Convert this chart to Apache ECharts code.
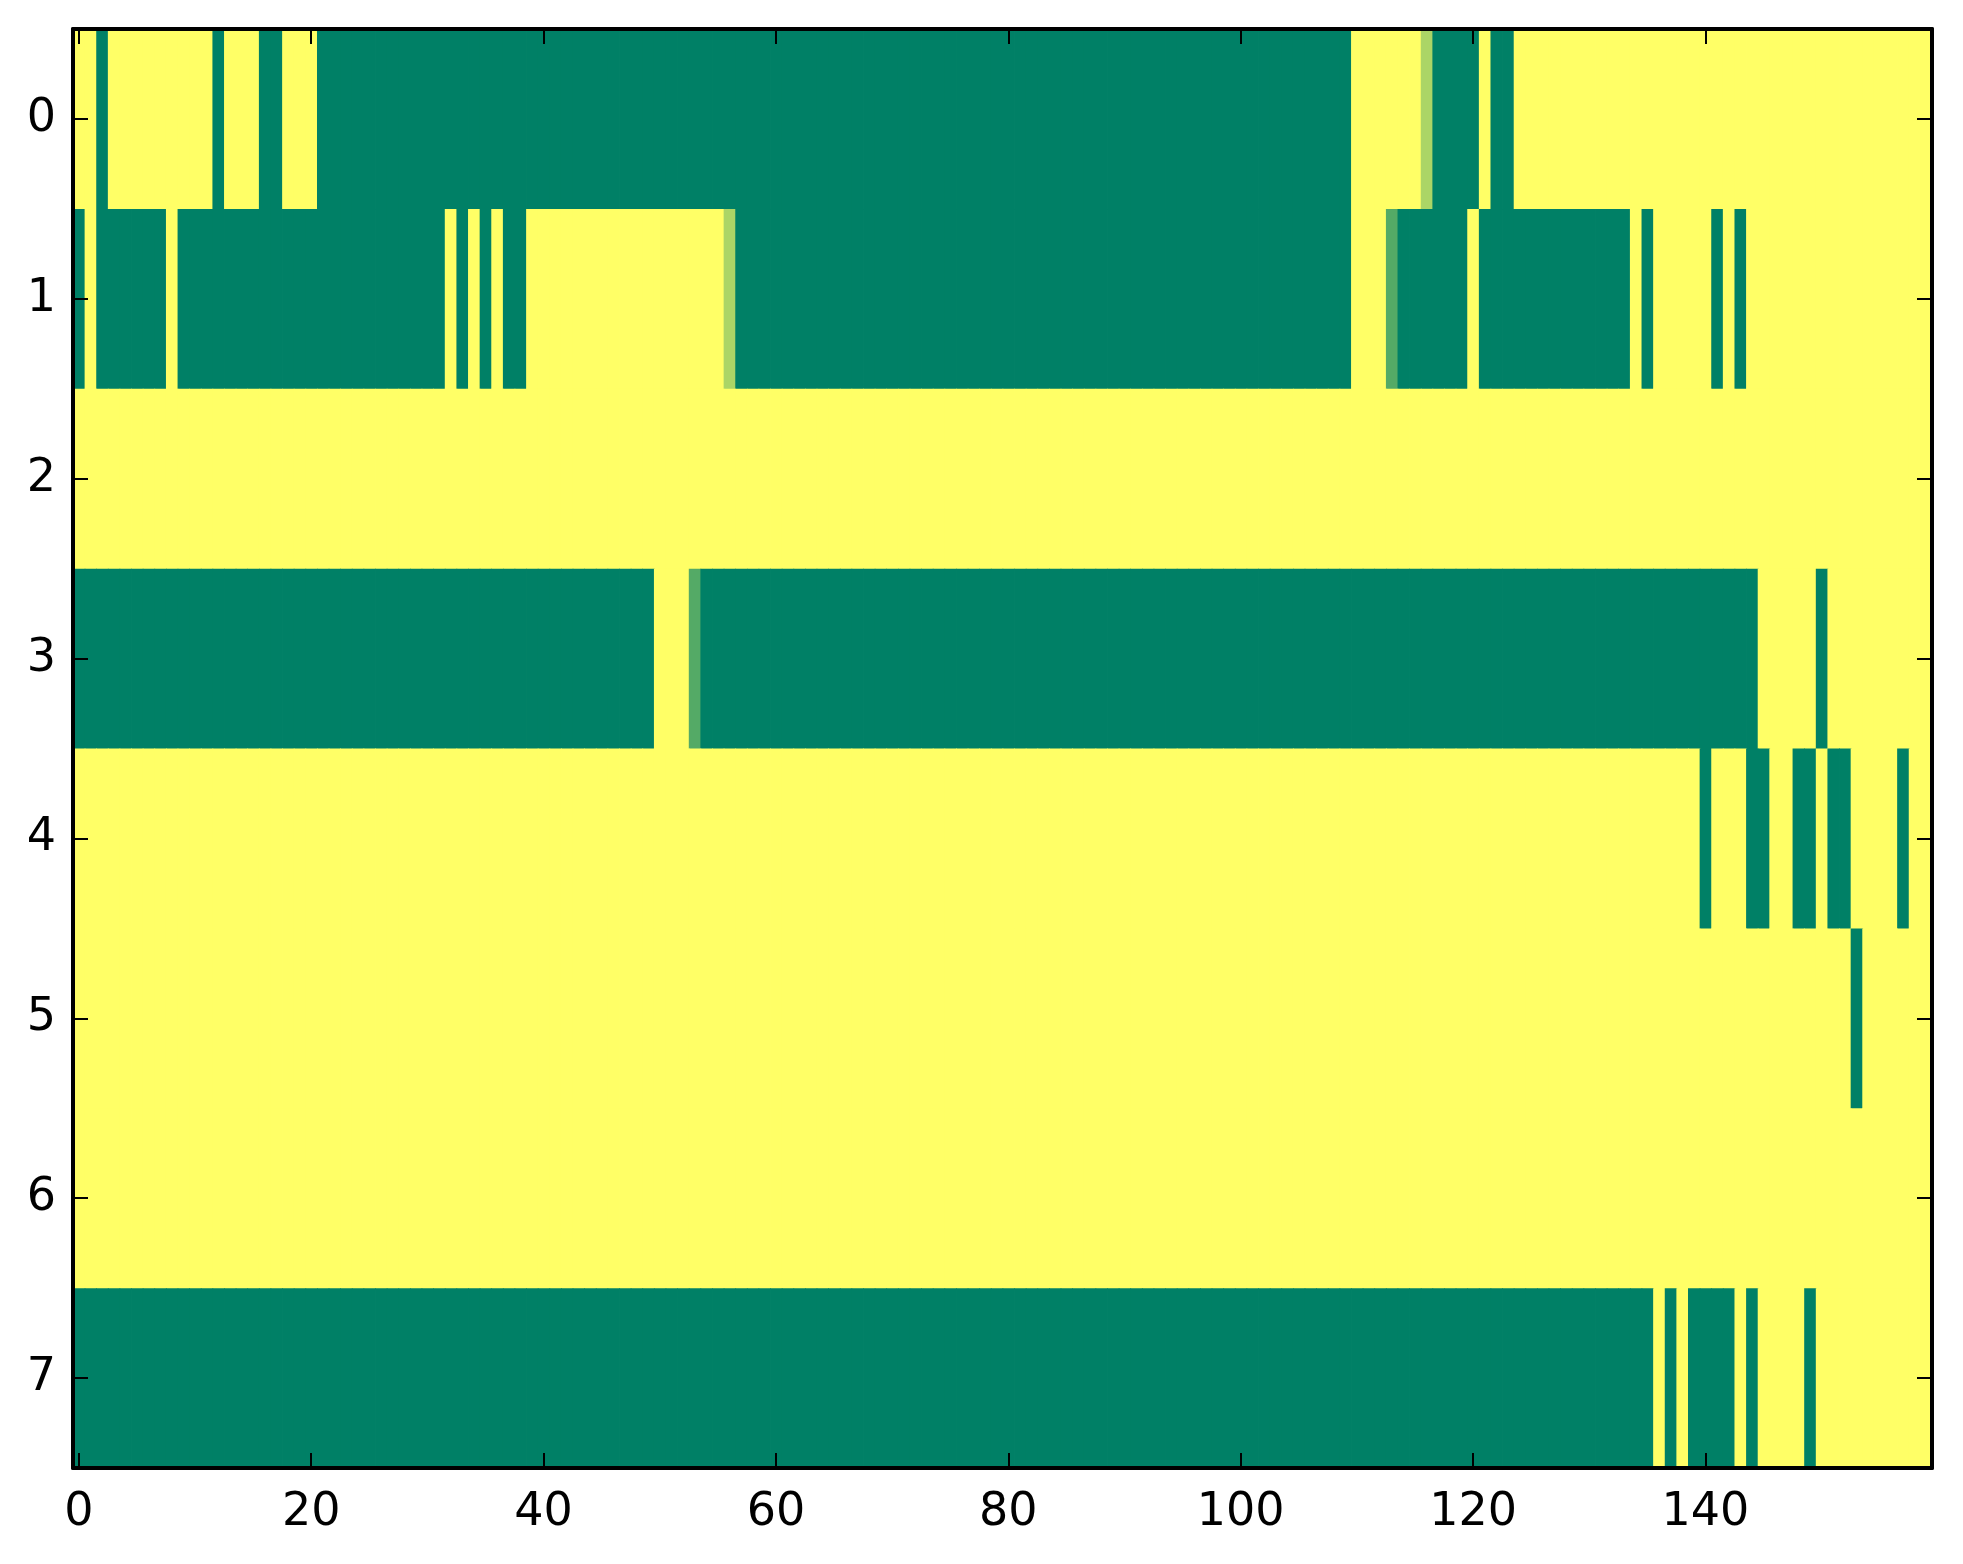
<!DOCTYPE html>
<html>
<head>
<meta charset="utf-8">
<script src="https://cdn.jsdelivr.net/npm/echarts@6/dist/echarts.min.js"></script>
<style>
html,body{margin:0;padding:0;background:#fff;}
#chart{width:1963px;height:1564px;}
</style>
</head>
<body>
<div id="chart"></div>
<script>
// Column indices 0..159 and row labels 0..7
var xCategories = [];
for (var i = 0; i < 160; i++) xCategories.push(String(i));
var yCategories = ['0','1','2','3','4','5','6','7'];

// Cell values per row (0 = green, 1 = yellow)
var row0 = [
1,1,0,1,1,1,1,1,1,1, 1,1,0,1,1,1,0,0,1,1,
1,0,0,0,0,0,0,0,0,0, 0,0,0,0,0,0,0,0,0,0,
0,0,0,0,0,0,0,0,0,0, 0,0,0,0,0,0,0,0,0,0,
0,0,0,0,0,0,0,0,0,0, 0,0,0,0,0,0,0,0,0,0,
0,0,0,0,0,0,0,0,0,0, 0,0,0,0,0,0,0,0,0,0,
0,0,0,0,0,0,0,0,0,0, 1,1,1,1,1,1,0.67,0,0,0,
0,1,0,0,1,1,1,1,1,1, 1,1,1,1,1,1,1,1,1,1,
1,1,1,1,1,1,1,1,1,1, 1,1,1,1,1,1,1,1,1,1
];
var row1 = [
0,1,0,0,0,0,0,0,1,0, 0,0,0,0,0,0,0,0,0,0,
0,0,0,0,0,0,0,0,0,0, 0,0,1,0,1,0,1,0,0,1,
1,1,1,1,1,1,1,1,1,1, 1,1,1,1,1,1,0.67,0,0,0,
0,0,0,0,0,0,0,0,0,0, 0,0,0,0,0,0,0,0,0,0,
0,0,0,0,0,0,0,0,0,0, 0,0,0,0,0,0,0,0,0,0,
0,0,0,0,0,0,0,0,0,0, 1,1,1,0.33,0,0,0,0,0,0,
1,0,0,0,0,0,0,0,0,0, 0,0,0,0,1,0,1,1,1,1,
1,0,1,0,1,1,1,1,1,1, 1,1,1,1,1,1,1,1,1,1
];
var row2 = [
1,1,1,1,1,1,1,1,1,1, 1,1,1,1,1,1,1,1,1,1,
1,1,1,1,1,1,1,1,1,1, 1,1,1,1,1,1,1,1,1,1,
1,1,1,1,1,1,1,1,1,1, 1,1,1,1,1,1,1,1,1,1,
1,1,1,1,1,1,1,1,1,1, 1,1,1,1,1,1,1,1,1,1,
1,1,1,1,1,1,1,1,1,1, 1,1,1,1,1,1,1,1,1,1,
1,1,1,1,1,1,1,1,1,1, 1,1,1,1,1,1,1,1,1,1,
1,1,1,1,1,1,1,1,1,1, 1,1,1,1,1,1,1,1,1,1,
1,1,1,1,1,1,1,1,1,1, 1,1,1,1,1,1,1,1,1,1
];
var row3 = [
0,0,0,0,0,0,0,0,0,0, 0,0,0,0,0,0,0,0,0,0,
0,0,0,0,0,0,0,0,0,0, 0,0,0,0,0,0,0,0,0,0,
0,0,0,0,0,0,0,0,0,0, 1,1,1,0.33,0,0,0,0,0,0,
0,0,0,0,0,0,0,0,0,0, 0,0,0,0,0,0,0,0,0,0,
0,0,0,0,0,0,0,0,0,0, 0,0,0,0,0,0,0,0,0,0,
0,0,0,0,0,0,0,0,0,0, 0,0,0,0,0,0,0,0,0,0,
0,0,0,0,0,0,0,0,0,0, 0,0,0,0,0,0,0,0,0,0,
0,0,0,0,0,1,1,1,1,1, 0,1,1,1,1,1,1,1,1,1
];
var row4 = [
1,1,1,1,1,1,1,1,1,1, 1,1,1,1,1,1,1,1,1,1,
1,1,1,1,1,1,1,1,1,1, 1,1,1,1,1,1,1,1,1,1,
1,1,1,1,1,1,1,1,1,1, 1,1,1,1,1,1,1,1,1,1,
1,1,1,1,1,1,1,1,1,1, 1,1,1,1,1,1,1,1,1,1,
1,1,1,1,1,1,1,1,1,1, 1,1,1,1,1,1,1,1,1,1,
1,1,1,1,1,1,1,1,1,1, 1,1,1,1,1,1,1,1,1,1,
1,1,1,1,1,1,1,1,1,1, 1,1,1,1,1,1,1,1,1,1,
0,1,1,1,0,0,1,1,0,0, 1,0,0,1,1,1,1,0,1,1
];
var row5 = [
1,1,1,1,1,1,1,1,1,1, 1,1,1,1,1,1,1,1,1,1,
1,1,1,1,1,1,1,1,1,1, 1,1,1,1,1,1,1,1,1,1,
1,1,1,1,1,1,1,1,1,1, 1,1,1,1,1,1,1,1,1,1,
1,1,1,1,1,1,1,1,1,1, 1,1,1,1,1,1,1,1,1,1,
1,1,1,1,1,1,1,1,1,1, 1,1,1,1,1,1,1,1,1,1,
1,1,1,1,1,1,1,1,1,1, 1,1,1,1,1,1,1,1,1,1,
1,1,1,1,1,1,1,1,1,1, 1,1,1,1,1,1,1,1,1,1,
1,1,1,1,1,1,1,1,1,1, 1,1,1,0,1,1,1,1,1,1
];
var row6 = [
1,1,1,1,1,1,1,1,1,1, 1,1,1,1,1,1,1,1,1,1,
1,1,1,1,1,1,1,1,1,1, 1,1,1,1,1,1,1,1,1,1,
1,1,1,1,1,1,1,1,1,1, 1,1,1,1,1,1,1,1,1,1,
1,1,1,1,1,1,1,1,1,1, 1,1,1,1,1,1,1,1,1,1,
1,1,1,1,1,1,1,1,1,1, 1,1,1,1,1,1,1,1,1,1,
1,1,1,1,1,1,1,1,1,1, 1,1,1,1,1,1,1,1,1,1,
1,1,1,1,1,1,1,1,1,1, 1,1,1,1,1,1,1,1,1,1,
1,1,1,1,1,1,1,1,1,1, 1,1,1,1,1,1,1,1,1,1
];
var row7 = [
0,0,0,0,0,0,0,0,0,0, 0,0,0,0,0,0,0,0,0,0,
0,0,0,0,0,0,0,0,0,0, 0,0,0,0,0,0,0,0,0,0,
0,0,0,0,0,0,0,0,0,0, 0,0,0,0,0,0,0,0,0,0,
0,0,0,0,0,0,0,0,0,0, 0,0,0,0,0,0,0,0,0,0,
0,0,0,0,0,0,0,0,0,0, 0,0,0,0,0,0,0,0,0,0,
0,0,0,0,0,0,0,0,0,0, 0,0,0,0,0,0,0,0,0,0,
0,0,0,0,0,0,0,0,0,0, 0,0,0,0,0,0,1,0,1,0,
0,0,0,1,0,1,1,1,1,0, 1,1,1,1,1,1,1,1,1,1
];
var rows = [row0, row1, row2, row3, row4, row5, row6, row7];

// Tick label step on the x axis
var xTickStep = 20;

var data = [];
rows.forEach(function (r, y) {
  r.forEach(function (v, x) { data.push([x, y, v]); });
});

var font = 'DejaVu Sans';
function xShow(i) { return i % xTickStep === 0; }

function renderCell(params, api) {
  var c = api.coord([api.value(0), api.value(1)]);
  var s = api.size([1, 1]);
  return {
    type: 'rect',
    shape: {x: c[0] - s[0] / 2, y: c[1] - s[1] / 2, width: s[0] + 0.8, height: s[1] + 0.8},
    style: {fill: api.visual('color')}
  };
}

var axisLine = {show: true, onZero: false, lineStyle: {color: '#000', width: 4}};

var chart = echarts.init(document.getElementById('chart'), null, {renderer: 'canvas'});
chart.setOption({
  backgroundColor: '#ffffff',
  animation: false,
  grid: {left: 73, right: 31, top: 29, bottom: 96, containLabel: false},
  xAxis: [{
    type: 'category', data: xCategories, position: 'bottom', z: 10,
    axisLine: axisLine,
    axisTick: {show: true, inside: true, length: 15, alignWithLabel: true, interval: xShow,
               lineStyle: {color: '#000', width: 2}},
    axisLabel: {show: true, interval: xShow, margin: 22, color: '#000', fontFamily: font, fontSize: 46},
    splitLine: {show: false}
  }, {
    type: 'category', data: xCategories, position: 'top', z: 10,
    axisLine: axisLine,
    axisTick: {show: true, inside: true, length: 15, alignWithLabel: true, interval: xShow,
               lineStyle: {color: '#000', width: 2}},
    axisLabel: {show: false},
    splitLine: {show: false}
  }],
  yAxis: [{
    type: 'category', data: yCategories, inverse: true, position: 'left', z: 10,
    axisLine: axisLine,
    axisTick: {show: true, inside: true, length: 15, alignWithLabel: true, interval: 0,
               lineStyle: {color: '#000', width: 2}},
    axisLabel: {show: true, interval: 0, margin: 17, color: '#000', fontFamily: font, fontSize: 46},
    splitLine: {show: false}
  }, {
    type: 'category', data: yCategories, inverse: true, position: 'right', z: 10,
    axisLine: axisLine,
    axisTick: {show: true, inside: true, length: 15, alignWithLabel: true, interval: 0,
               lineStyle: {color: '#000', width: 2}},
    axisLabel: {show: false},
    splitLine: {show: false}
  }],
  visualMap: {
    show: false, type: 'continuous', min: 0, max: 1, dimension: 2, seriesIndex: 0,
    inRange: {color: ['#008066', '#ffff66']}
  },
  series: [{
    type: 'custom', xAxisIndex: 0, yAxisIndex: 0, data: data,
    renderItem: renderCell, clip: true, silent: true,
    encode: {x: 0, y: 1},
    z: 1
  }]
});
</script>
</body>
</html>
